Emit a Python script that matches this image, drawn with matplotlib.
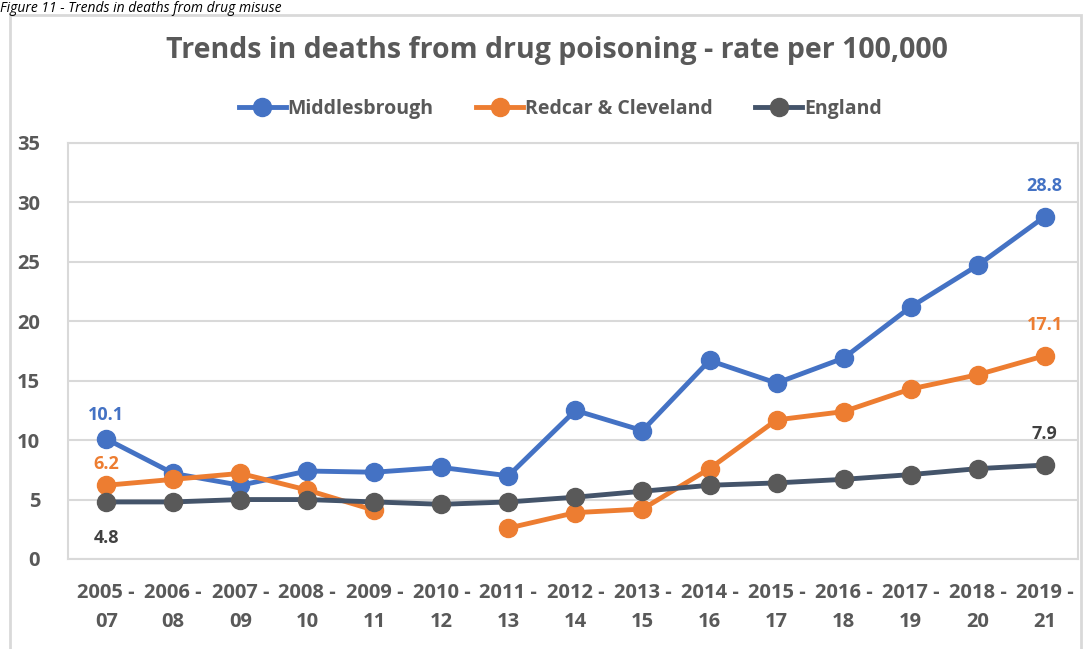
import matplotlib.pyplot as plt
import numpy as np

periods = ['2005 -\n07', '2006 -\n08', '2007 -\n09', '2008 -\n10', '2009 -\n11',
           '2010 -\n12', '2011 -\n13', '2012 -\n14', '2013 -\n15', '2014 -\n16',
           '2015 -\n17', '2016 -\n18', '2017 -\n19', '2018 -\n20', '2019 -\n21']
middlesbrough = [10.1, 7.2, 6.2, 7.4, 7.3, 7.7, 7.0, 12.5, 10.8, 16.7, 14.8, 16.9, 21.2, 24.7, 28.8]
redcar = [6.2, 6.7, 7.2, 5.8, 4.1, np.nan, 2.6, 3.9, 4.2, 7.6, 11.7, 12.4, 14.3, 15.5, 17.1]
england = [4.8, 4.8, 5.0, 5.0, 4.8, 4.6, 4.8, 5.2, 5.7, 6.2, 6.4, 6.7, 7.1, 7.6, 7.9]

blue = '#4472C4'
orange = '#ED7D31'
eng_line = '#44546A'
eng_mark = '#595959'
grey = '#595959'

plt.rcParams['font.family'] = ['Open Sans', 'DejaVu Sans']

fig = plt.figure(figsize=(10.88, 6.49), dpi=100)
ax = fig.add_axes([0.0625, 0.1387, 0.9285, 0.641])

x = np.arange(len(periods))
ax.plot(x, middlesbrough, color=blue, lw=3.5, marker='o', ms=13, label='Middlesbrough', zorder=3)
ax.plot(x, redcar, color=orange, lw=3.5, marker='o', ms=13, label='Redcar & Cleveland', zorder=4)
ax.plot(x, england, color=eng_line, lw=3.5, marker='o', ms=13, mfc=eng_mark, mec=eng_mark,
        label='England', zorder=5)

# data labels on first and last points
lab_kw = dict(fontsize=13, fontweight='bold', ha='center', va='center')
ax.text(x[0], middlesbrough[0] + 2.0, f'{middlesbrough[0]}', color=blue, **lab_kw)
ax.text(x[0], redcar[0] + 1.8, f'{redcar[0]}', color=orange, **lab_kw)
ax.text(x[0], england[0] - 3.0, f'{england[0]}', color='#404040', **lab_kw)
ax.text(x[-1], middlesbrough[-1] + 2.6, f'{middlesbrough[-1]}', color=blue, **lab_kw)
ax.text(x[-1], redcar[-1] + 2.6, f'{redcar[-1]}', color=orange, **lab_kw)
ax.text(x[-1], england[-1] + 2.6, f'{england[-1]}', color='#404040', **lab_kw)

ax.set_ylim(0, 35)
ax.set_yticks(range(0, 36, 5))
ax.set_xlim(-0.57, 14.5)
ax.set_xticks(x)
ax.set_xticklabels(periods, fontsize=14.5, fontweight='bold', color=grey, linespacing=1.65)
ax.tick_params(axis='y', labelsize=14.5, labelcolor=grey, length=0, pad=20)
ax.tick_params(axis='x', length=0, pad=17)
for lab in ax.get_yticklabels():
    lab.set_fontweight('bold')
ax.grid(axis='y', color='#D9D9D9', lw=1.5)
ax.set_axisbelow(True)
for s in ax.spines.values():
    s.set_color('#D9D9D9')
    s.set_linewidth(1.5)

fig.text(0.512, 0.922, 'Trends in deaths from drug poisoning - rate per 100,000',
         fontsize=20.5, fontweight='bold', color=grey, ha='center', va='center')
fig.legend(loc='center', bbox_to_anchor=(0.515, 0.832), ncol=3, frameon=False,
           prop={'size': 14, 'weight': 'bold'}, labelcolor=grey, handlelength=2.4,
           columnspacing=2.2, handletextpad=0.1)

# caption above the chart frame
fig.text(0.0, 0.999, 'Figure 11 - Trends in deaths from drug misuse', fontsize=10,
         style='italic', ha='left', va='top')
frame = plt.Rectangle((0.009, -0.05), 0.985, 1.027, transform=fig.transFigure,
                      fill=False, ec='#D9D9D9', lw=2)
fig.add_artist(frame)

fig.savefig('out.png', dpi=100)
